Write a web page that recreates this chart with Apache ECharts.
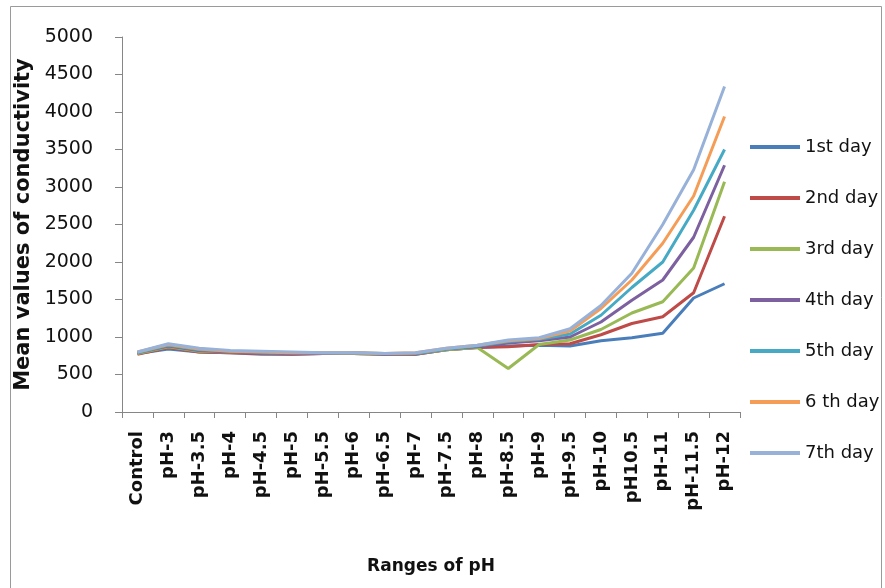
<!DOCTYPE html>
<html>
<head>
<meta charset="utf-8">
<title>Mean values of conductivity by pH</title>
<script src="https://cdn.jsdelivr.net/npm/echarts@6/dist/echarts.min.js"></script>
<style>
  html, body { margin: 0; padding: 0; background: #ffffff; }
  #chart { width: 885px; height: 588px; }
</style>
</head>
<body>
<div id="chart"></div>
<script>
// pH treatments along the category axis
const categories = ['Control', 'pH-3', 'pH-3.5', 'pH-4', 'pH-4.5', 'pH-5', 'pH-5.5', 'pH-6', 'pH-6.5', 'pH-7',
  'pH-7.5', 'pH-8', 'pH-8.5', 'pH-9', 'pH-9.5', 'pH-10', 'pH10.5', 'pH-11', 'pH-11.5', 'pH-12'];

// mean conductivity per day of measurement
const day1 = [780, 840, 800, 790, 770, 770, 780, 780, 770, 770, 830, 860, 880, 890, 880, 950, 990, 1050, 1520, 1710];
const day2 = [770, 860, 800, 790, 780, 770, 780, 780, 770, 770, 830, 860, 870, 900, 910, 1030, 1180, 1270, 1590, 2610];
const day3 = [780, 870, 810, 800, 790, 780, 780, 780, 770, 780, 830, 860, 580, 900, 960, 1100, 1320, 1470, 1920, 3070];
const day4 = [790, 880, 820, 800, 790, 780, 780, 790, 770, 780, 840, 870, 920, 950, 1000, 1200, 1490, 1760, 2330, 3290];
const day5 = [790, 890, 830, 810, 800, 790, 790, 790, 780, 780, 840, 880, 940, 970, 1040, 1290, 1660, 2000, 2690, 3500];
const day6 = [800, 900, 840, 810, 800, 790, 790, 790, 780, 790, 850, 890, 950, 980, 1080, 1380, 1760, 2250, 2880, 3940];
const day7 = [800, 910, 850, 820, 810, 800, 790, 790, 780, 790, 850, 890, 960, 990, 1110, 1420, 1850, 2500, 3230, 4340];

const seriesNames = ['1st day', '2nd day', '3rd day', '4th day', '5th day', '6 th day', '7th day'];
const seriesValues = [day1, day2, day3, day4, day5, day6, day7];
const seriesColors = ['#4A7EBB', '#BE4B48', '#98B954', '#7D60A0', '#46AAC5', '#F59D56', '#97B1D9'];

// y axis range
const yMin = 0;
const yMax = 5000;
const yStep = 500;

const FONT = '"DejaVu Sans", "Liberation Sans", sans-serif';
const AXIS_GRAY = '#868686';

const chart = echarts.init(document.getElementById('chart'), null, { renderer: 'canvas' });

chart.setOption({
  backgroundColor: '#ffffff',
  animation: false,
  graphic: [{
    type: 'rect',
    silent: true,
    z: -1,
    shape: { x: 10.5, y: 6.5, width: 871, height: 600 },
    style: { fill: 'none', stroke: '#9a9a9a', lineWidth: 1 }
  }],
  grid: { left: 122, right: 145, top: 37, bottom: 176, containLabel: false },
  legend: {
    orient: 'vertical',
    left: 745,
    top: 132,
    itemWidth: 50,
    itemHeight: 4,
    itemGap: 31,
    icon: 'rect',
    data: seriesNames,
    textStyle: { fontFamily: FONT, fontSize: 18, color: '#111', lineHeight: 20 }
  },
  xAxis: {
    type: 'category',
    data: categories,
    boundaryGap: true,
    name: 'Ranges of pH',
    nameLocation: 'middle',
    nameGap: 146,
    nameTextStyle: { fontFamily: FONT, fontSize: 17, fontWeight: 'bold', color: '#111' },
    axisLine: { lineStyle: { color: AXIS_GRAY, width: 1 } },
    axisTick: { show: true, interval: 0, length: 6, alignWithLabel: false, lineStyle: { color: AXIS_GRAY } },
    axisLabel: {
      interval: 0, rotate: 90, margin: 19,
      fontFamily: FONT, fontSize: 18, fontWeight: 'bold', color: '#111'
    },
    splitLine: { show: false }
  },
  yAxis: {
    type: 'value',
    min: yMin,
    max: yMax,
    interval: yStep,
    name: 'Mean values of conductivity',
    nameLocation: 'middle',
    nameRotate: 90,
    nameGap: 70,
    nameTextStyle: { fontFamily: FONT, fontSize: 21, fontWeight: 'bold', color: '#111' },
    axisLine: { show: true, lineStyle: { color: AXIS_GRAY, width: 1 } },
    axisTick: { show: true, length: 7, lineStyle: { color: AXIS_GRAY } },
    axisLabel: {
      margin: 29, fontFamily: FONT, fontSize: 19, color: '#111',
      formatter: (v) => String(v)
    },
    splitLine: { show: false }
  },
  series: seriesNames.map((name, i) => ({
    name: name,
    type: 'line',
    data: seriesValues[i],
    symbol: 'none',
    smooth: false,
    color: seriesColors[i],
    lineStyle: { width: 3, color: seriesColors[i] },
    z: 2 + i
  }))
});
</script>
</body>
</html>
